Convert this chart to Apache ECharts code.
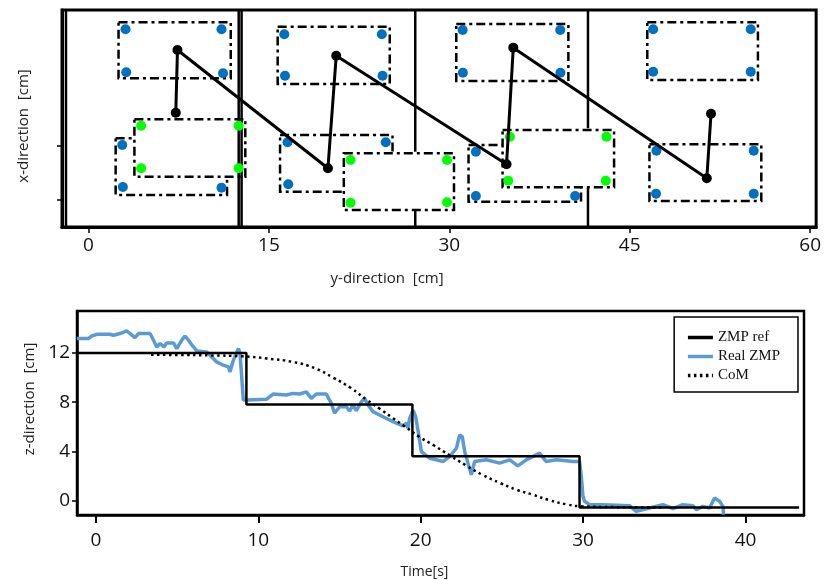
<!DOCTYPE html>
<html>
<head>
<meta charset="utf-8">
<title>ZMP walking</title>
<script src="https://cdn.jsdelivr.net/npm/echarts@6/dist/echarts.min.js"></script>
<style>
  html, body { margin: 0; padding: 0; background: #fff; }
  #main { width: 824px; height: 580px; }
</style>
</head>
<body>
<div id="main"></div>
<script>
// ---- top: footprints in the y/x plane [cm] ----
var topXTicks = [0, 15, 30, 45, 60];
var topYTicks = [2.5, 7.5];
// thick plate edges: [y, x from, x to]
var plateEdges = [[-1.87, 0, 20], [12.49, 0, 20], [12.73, 0, 20], [27.17, 6.94, 20], [27.17, 0, 1.57], [41.53, 9.10, 20], [41.53, 0, 3.62]];
// footprints: [y1, x1, y2, x2]
var footUpper = [[2.50, 18.87, 11.83, 13.71], [15.73, 18.46, 25.05, 13.18], [30.58, 18.71, 39.90, 13.46], [46.46, 18.87, 55.66, 13.55]];
var footLower = [[2.26, 8.18, 11.52, 2.95], [15.93, 8.48, 25.28, 3.25], [31.60, 7.56, 40.95, 2.33], [46.64, 7.62, 55.94, 2.40]];
var footGreen = [[3.82, 9.93, 13.04, 4.64], [21.23, 6.79, 30.39, 1.57], [34.43, 8.94, 43.70, 3.66]];
var blueMarkers = [
  [3.08, 18.22], [11.06, 18.22], [3.14, 14.26], [11.19, 14.17],
  [16.28, 17.76], [24.39, 17.76], [16.34, 13.94], [24.45, 13.94],
  [31.11, 18.16], [39.22, 18.16], [31.13, 14.22], [39.24, 14.22],
  [46.95, 18.22], [55.06, 18.22], [46.95, 14.31], [55.06, 14.31],
  [2.81, 7.56], [2.86, 3.69], [11.06, 3.62],
  [16.55, 7.81], [24.72, 7.81], [16.61, 3.94],
  [32.21, 6.94], [32.21, 2.86], [40.46, 2.86],
  [47.22, 7.03], [55.31, 7.03], [47.19, 3.07], [55.31, 3.07]
];
var greenMarkers = [
  [4.38, 9.34], [12.49, 9.34], [4.38, 5.41], [12.49, 5.41],
  [21.79, 6.18], [29.81, 6.18], [21.79, 2.24], [29.81, 2.28],
  [35.04, 8.32], [43.07, 8.32], [34.90, 4.27], [43.01, 4.27]
];
var zmpPath = [[7.26, 10.53], [7.40, 16.31], [19.91, 5.41], [20.60, 15.79], [34.76, 5.78], [35.32, 16.53], [51.41, 4.49], [51.76, 10.44]];

// ---- bottom: z-direction over time ----
var timeTicks = [0, 10, 20, 30, 40];
var zTicks = [0, 4, 8, 12];
var zmpRef = [[-1.2, 12.0], [9.27, 7.8], [19.49, 3.6], [29.78, -0.55], [43.3, -0.55]];
var realZmp = [
  [-1.17, 13.16], [-0.46, 13.16], [-0.25, 13.37], [0.06, 13.51], [0.87, 13.51], [1.08, 13.43], [1.49, 13.57], [1.90, 13.78],
  [2.11, 13.57], [2.41, 13.24], [2.62, 13.57], [3.34, 13.57], [3.55, 13.03], [3.75, 12.48], [3.95, 12.76], [4.20, 12.48],
  [4.36, 12.81], [4.78, 12.81], [4.98, 12.35], [5.29, 13.03], [5.49, 13.37], [5.70, 13.03], [6.01, 12.48], [6.21, 12.16],
  [6.83, 12.08], [7.13, 11.67], [7.44, 11.27], [7.85, 11.0], [8.16, 10.87], [8.26, 10.46], [8.47, 11.41], [8.78, 12.35],
  [8.88, 11.95], [8.98, 10.06], [9.08, 8.17], [9.29, 8.17], [10.5, 8.23], [10.91, 8.66], [11.73, 8.58], [12.14, 8.71],
  [12.55, 8.66], [12.96, 8.84], [13.27, 8.31], [13.58, 8.66], [14.19, 8.66], [14.50, 7.9], [14.70, 7.10], [15.01, 7.63],
  [15.42, 7.63], [15.63, 7.28], [15.83, 7.77], [16.04, 7.31], [16.35, 8.03], [16.55, 8.31], [16.76, 7.77], [17.06, 7.23],
  [17.68, 6.82], [18.29, 6.42], [18.91, 6.07], [19.12, 6.29], [19.22, 5.88], [19.32, 6.69], [19.53, 7.36], [19.69, 6.82],
  [19.83, 5.74], [20.04, 3.99], [20.55, 3.45], [20.96, 3.32], [21.37, 3.18], [21.78, 3.58], [22.2, 4.26], [22.40, 5.34],
  [22.56, 5.20], [22.71, 3.99], [22.91, 3.05], [23.12, 2.10], [23.32, 3.18], [24.04, 3.32], [24.86, 3.05], [25.48, 3.32],
  [25.98, 2.83], [26.50, 3.32], [27.32, 3.86], [27.73, 3.18], [28.35, 3.32], [29.37, 3.18], [29.78, 3.18], [29.89, 1.97],
  [29.99, 0.35], [30.09, -0.05], [30.40, -0.32], [31.22, -0.32], [32.86, -0.40], [33.27, -0.86], [34.09, -0.59], [34.91, -0.32],
  [35.53, -0.65], [36.14, -0.32], [36.76, -0.40], [36.97, -0.73], [37.37, -0.46], [37.79, -0.59], [38.09, 0.22], [38.40, -0.05],
  [38.61, -0.46], [38.65, -1.13]
];
var com = [
  [3.4, 11.85], [5, 11.83], [7, 11.8], [9, 11.72], [10.5, 11.55], [12.1, 11.27], [13.5, 10.75], [14.6, 10.0],
  [15.7, 9.15], [16.7, 8.17], [17.5, 7.45], [18.3, 6.69], [19.0, 6.05], [19.9, 5.2], [20.8, 4.5], [21.8, 3.67],
  [22.8, 2.86], [23.8, 2.10], [24.9, 1.43], [25.9, 0.89], [26.9, 0.49], [27.9, 0.05], [29.0, -0.3], [29.8, -0.45],
  [32, -0.52], [35, -0.55]
];

var myChart = echarts.init(document.getElementById('main'));

function footRect(fill) {
    return function (params, api) {
        var a = api.coord([api.value(0), api.value(1)]);
        var b = api.coord([api.value(2), api.value(3)]);
        return {
            type: 'rect',
            shape: {x: Math.min(a[0], b[0]), y: Math.min(a[1], b[1]), width: Math.abs(b[0] - a[0]), height: Math.abs(b[1] - a[1])},
            style: {fill: fill, stroke: '#000', lineWidth: 2.5, lineDash: [9, 4, 3, 4]}
        };
    };
}

function plateLine(params, api) {
    var a = api.coord([api.value(0), api.value(1)]);
    var b = api.coord([api.value(0), api.value(2)]);
    return {
        type: 'line',
        shape: {x1: a[0], y1: a[1], x2: b[0], y2: b[1]},
        style: {stroke: '#000', lineWidth: 2.5}
    };
}

var tickFont = {color: '#111', fontFamily: 'Open Sans', fontSize: 19};
var nameFont = {color: '#222', fontFamily: 'Open Sans', fontSize: 15};

var option = {
    animation: false,
    backgroundColor: '#fff',
    grid: [
        {left: 62, right: 2, top: 10, height: 217, show: true, borderColor: '#000', borderWidth: 3},
        {left: 77, right: 20, top: 311, height: 204, show: true, borderColor: '#000', borderWidth: 2.5}
    ],
    xAxis: [
        {
            gridIndex: 0, type: 'value', min: -2.2, max: 60.5,
            name: 'y-direction  [cm]', nameLocation: 'middle', nameGap: 44,
            nameTextStyle: Object.assign({padding: [0, 104, 0, 0]}, nameFont),
            axisLine: {show: true, onZero: false, lineStyle: {color: '#000', width: 3}},
            axisTick: {show: true, length: 6, customValues: topXTicks, lineStyle: {color: '#000', width: 1.5}},
            axisLabel: Object.assign({customValues: topXTicks, margin: 9}, tickFont),
            splitLine: {show: false}
        },
        {
            gridIndex: 1, type: 'value', min: -1.16, max: 43.6,
            name: 'Time[s]', nameLocation: 'middle', nameGap: 50,
            nameTextStyle: {color: '#222', fontFamily: 'Open Sans', fontSize: 14, padding: [0, 32, 0, 0]},
            axisLine: {show: true, onZero: false, lineStyle: {color: '#000', width: 2.5}},
            axisTick: {show: true, length: 8, customValues: timeTicks, lineStyle: {color: '#000', width: 2}},
            axisLabel: Object.assign({customValues: timeTicks, margin: 16}, tickFont),
            splitLine: {show: false}
        }
    ],
    yAxis: [
        {
            gridIndex: 0, type: 'value', min: 0, max: 20,
            name: 'x-direction  [cm]', nameLocation: 'middle', nameGap: 31,
            nameTextStyle: Object.assign({padding: [0, 15, 0, 0]}, nameFont),
            axisLine: {show: true, onZero: false, lineStyle: {color: '#000', width: 3}},
            axisTick: {show: true, length: 5, customValues: topYTicks, lineStyle: {color: '#000', width: 1.5}},
            axisLabel: {show: false},
            splitLine: {show: false}
        },
        {
            gridIndex: 1, type: 'value', min: -1.16, max: 15.4,
            name: 'z-direction  [cm]', nameLocation: 'middle', nameGap: 32,
            nameTextStyle: Object.assign({padding: [0, 0, 0, 28]}, nameFont),
            axisLine: {show: true, onZero: false, lineStyle: {color: '#000', width: 2.5}},
            axisTick: {show: true, length: 5, customValues: zTicks, lineStyle: {color: '#000', width: 1.5}},
            axisLabel: Object.assign({customValues: zTicks, margin: 7}, tickFont),
            splitLine: {show: false}
        }
    ],
    legend: {
        data: ['ZMP ref', 'Real ZMP', 'CoM'],
        orient: 'vertical', right: 26, top: 317,
        backgroundColor: '#fff', borderColor: '#000', borderWidth: 1.5, borderRadius: 0,
        padding: [13, 18, 9, 12], itemGap: 4, itemWidth: 25, itemHeight: 14,
        itemStyle: {opacity: 0},
        lineStyle: {width: 3.5},
        textStyle: {color: '#111', fontFamily: 'Liberation Serif', fontSize: 15}
    },
    series: [
        {type: 'custom', xAxisIndex: 0, yAxisIndex: 0, z: 2, silent: true, renderItem: footRect('none'), data: footUpper.concat(footLower)},
        {type: 'custom', xAxisIndex: 0, yAxisIndex: 0, z: 3, silent: true, renderItem: footRect('#fff'), data: footGreen},
        {type: 'custom', xAxisIndex: 0, yAxisIndex: 0, z: 4, silent: true, renderItem: plateLine, data: plateEdges},
        {type: 'scatter', xAxisIndex: 0, yAxisIndex: 0, z: 5, symbolSize: 10, itemStyle: {color: '#0070c0', opacity: 1}, data: blueMarkers},
        {type: 'scatter', xAxisIndex: 0, yAxisIndex: 0, z: 5, symbolSize: 10, itemStyle: {color: '#00ff00', opacity: 1}, data: greenMarkers},
        {type: 'line', xAxisIndex: 0, yAxisIndex: 0, z: 6, symbol: 'circle', symbolSize: 10, showSymbol: true,
            itemStyle: {color: '#000'}, lineStyle: {color: '#000', width: 3}, data: zmpPath},

        {name: 'Real ZMP', type: 'line', xAxisIndex: 1, yAxisIndex: 1, z: 2, symbol: 'none',
            lineStyle: {color: '#5b9bd5', width: 3.5}, itemStyle: {color: '#5b9bd5'}, data: realZmp},
        {name: 'ZMP ref', type: 'line', xAxisIndex: 1, yAxisIndex: 1, z: 3, symbol: 'none', step: 'end',
            lineStyle: {color: '#000', width: 2.5}, itemStyle: {color: '#000'}, data: zmpRef},
        {name: 'CoM', type: 'line', xAxisIndex: 1, yAxisIndex: 1, z: 4, symbol: 'none', smooth: true,
            lineStyle: {color: '#000', width: 2.5, type: [2.5, 3.5]}, itemStyle: {color: '#000'}, data: com}
    ]
};

myChart.setOption(option);
</script>
</body>
</html>
